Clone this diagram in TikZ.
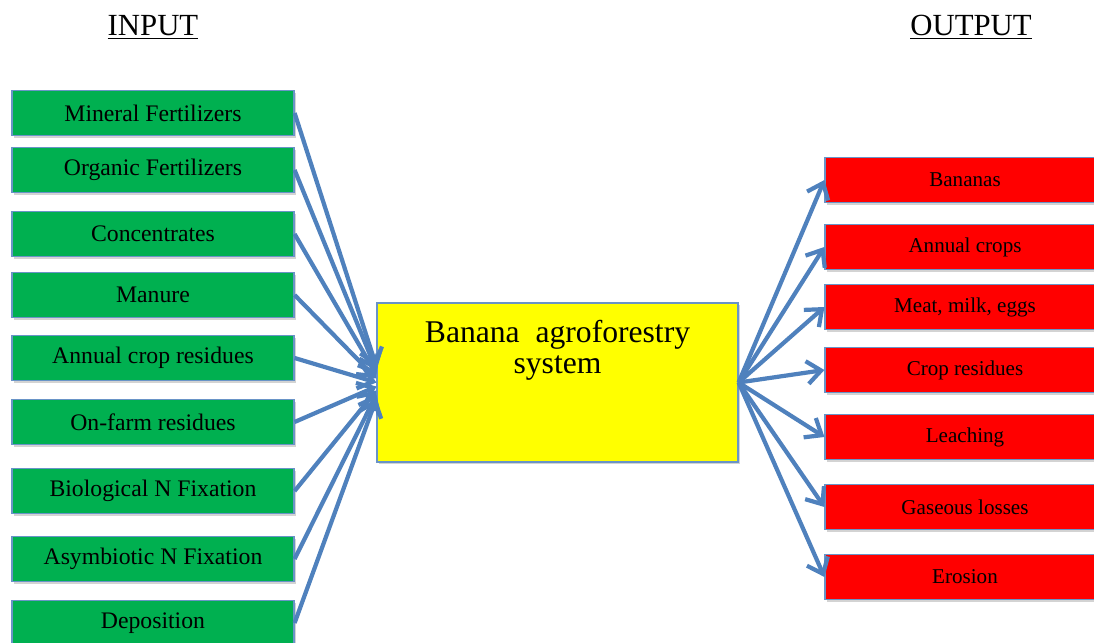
\documentclass[tikz,border=0pt]{standalone}
\usepackage{fontspec}
\setmainfont{Liberation Serif}
\usetikzlibrary{arrows.meta, positioning, shadows}
\definecolor{ingreen}{HTML}{00B050}
\definecolor{outred}{HTML}{FF0000}
\definecolor{sysyellow}{HTML}{FFFF00}
\definecolor{flowblue}{HTML}{4F81BD}
\colorlet{edgeblue}{flowblue!85!white}

\begin{document}
\begin{tikzpicture}[x=0.02cm, y=-0.02cm, >={Straight Barb[length=8pt, width=13pt]},
    box/.style={draw=edgeblue, line width=0.7pt, inner sep=0pt,
      drop shadow={shadow xshift=0.9pt, shadow yshift=-1.4pt, opacity=0.35}},
    inbox/.style={box, fill=ingreen, minimum width=5.64cm, minimum height=0.9cm,
      font=\fontsize{13.5}{15}\selectfont},
    outbox/.style={box, fill=outred, minimum width=5.6cm, minimum height=0.9cm,
      font=\fontsize{12}{14}\selectfont},
    sysbox/.style={box, fill=sysyellow, minimum width=7.22cm, minimum height=3.18cm},
    systext/.style={align=center, inner sep=0pt, font=\fontsize{18}{17.8}\selectfont},
    head/.style={font=\fontsize{17.5}{20}\selectfont},
    flow/.style={->, draw=flowblue, line width=2.4pt}]
    \path[use as bounding box, clip] (0,0) rectangle (1094,642);

    % titles
    \node[head] (inhead) at (153,27) {\underline{INPUT}};
    \node[head] (outhead) at (971,27) {\underline{OUTPUT}};

    % the system in the middle
    \node[sysbox] (sys) at (557.5,382.5) {};
    \node[systext, below=0.34cm of sys.north] (systitle) {Banana\ \ agroforestry\\system};

    % inputs
    \foreach \ypos/\name [count=\i] in {113/Mineral Fertilizers, 170/Organic Fertilizers,
        234/Concentrates, 295/Manure, 358/Annual crop residues, 422/On-farm residues,
        491/Biological N Fixation, 559/Asymbiotic N Fixation, 623/Deposition} {
      \node[inbox] (in\i) at (153,\ypos) {\name};
    }
    \foreach \i in {1,...,9} { \draw[flow] (in\i.east) -- ([yshift={(5-\i)*0.08cm}]sys.west); }

    % outputs
    \foreach \ypos/\name [count=\i] in {180/Bananas, 247/Annual crops, 307/{Meat, milk, eggs},
        370/Crop residues, 437/Leaching, 507/Gaseous losses, 577/Erosion} {
      \node[outbox] (out\i) at (965,\ypos) {\name};
    }
    \foreach \i in {1,...,7} { \draw[flow] (sys.east) -- (out\i.west); }
\end{tikzpicture}
\end{document}
